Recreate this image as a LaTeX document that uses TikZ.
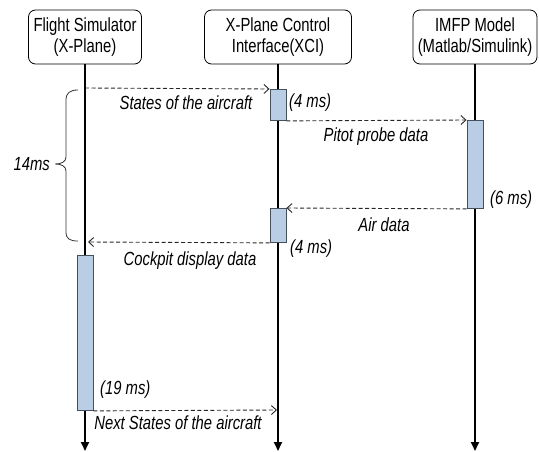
\documentclass[tikz,border=0pt]{standalone}
\usepackage{fontspec}
\setmainfont{Liberation Sans}[FakeStretch=0.78]
\usetikzlibrary{arrows.meta,positioning}
\definecolor{barfill}{RGB}{185,205,229}
\definecolor{barline}{RGB}{70,80,90}
\tikzset{
  lifebox/.style ={draw,rounded corners=7pt,line width=0.8pt,align=center,inner sep=0pt,
                   minimum height=54pt,font=\fontsize{19}{21}\selectfont},
  actbar/.style  ={draw=barline,fill=barfill,line width=0.9pt,minimum width=16pt,inner sep=0pt,anchor=north},
  lifeline/.style={line width=1.8pt,-{Triangle[length=9pt,width=8pt]}},
  msg/.style     ={black!85,line width=0.9pt,dash pattern=on 4pt off 2.5pt,-{Straight Barb[length=5pt,width=9pt]}},
  msglabel/.style={font=\fontsize{19}{21}\selectfont\itshape,inner sep=0pt},
}

\begin{document}
\begin{tikzpicture}[x=1pt,y=-1pt]
  \useasboundingbox (0,0) rectangle (539,452);
  % participants
  \node[lifebox,minimum width=113pt] (xp)   at (85,37)  {Flight Simulator\\(X-Plane)};
  \node[lifebox,minimum width=147pt] (xci)  at (278,37) {X-Plane Control\\Interface(XCI)};
  \node[lifebox,minimum width=124pt] (imfp) at (475,37) {IMFP Model\\(Matlab/Simulink)};
  % lifelines
  \draw[lifeline] (xp)   -- (xp |- 0,451);
  \draw[lifeline] (xci)  -- (xci |- 0,451);
  \draw[lifeline] (imfp) -- (imfp |- 0,451);
  % activation bars
  \node[actbar,minimum height=31pt]  (xci1)  at (278,89)  {};
  \node[actbar,minimum height=88pt]  (imfp1) at (475,120) {};
  \node[actbar,minimum height=34pt]  (xci2)  at (278,208) {};
  \node[actbar,minimum height=155pt] (xp1)   at (85,255)  {};
  \coordinate (m1) at (85,88);
  \coordinate (m4) at (88,242);
  \coordinate (m5) at (277,410);
  % messages
  \draw[msg] (m1) -- (xci1.north west);
  \draw[msg] (xci1.south east) -- (imfp1.north west);
  \draw[msg] (imfp1.south west) -- (xci2.north east);
  \draw[msg] (xci2.south west) -- (m4);
  \draw[msg] (xp1.south east) -- (m5);
  \node[msglabel] (l1) at (186,103) {States of the aircraft};
  \node[msglabel] (l2) at (376,137) {Pitot probe data};
  \node[msglabel] (l3) at (384,225) {Air data};
  \node[msglabel] (l4) at (190,261) {Cockpit display data};
  \node[msglabel] (l5) at (178,423) {Next States of the aircraft};
  % durations
  \node[msglabel,anchor=west] (t1) at (289,103) {(4 ms)};
  \node[msglabel,anchor=west] (t2) at (490,200) {(6 ms)};
  \node[msglabel,anchor=west] (t3) at (290,249) {(4 ms)};
  \node[msglabel,anchor=west] (t4) at (100,390) {(19 ms)};
  % 14 ms brace
  \draw[black!80,line width=0.8pt] (78,90) .. controls (70,90) and (66,93) .. (66,100)
    -- (66,157) .. controls (66,162) and (61,164) .. (55,164)
    .. controls (61,164) and (66,166) .. (66,171)
    -- (66,232) .. controls (66,239) and (70,241) .. (78,241);
  \node[msglabel,anchor=east] (t0) at (50,164) {14ms};
\end{tikzpicture}
\end{document}
